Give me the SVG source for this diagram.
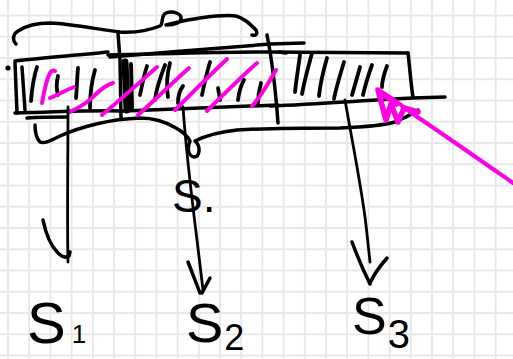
<svg xmlns="http://www.w3.org/2000/svg" width="513" height="359" viewBox="0 0 513 359">
<style>
.ink{fill:none;stroke:#000;stroke-width:3.5;stroke-linecap:round;stroke-linejoin:round}
.hatch{fill:none;stroke:#000;stroke-width:3.8;stroke-linecap:round;stroke-linejoin:round}
.mag{fill:none;stroke:#ff00e4;stroke-width:4;stroke-linecap:round;stroke-linejoin:round}
.lbl{font-family:"Liberation Sans",Arial,sans-serif;fill:#000}
</style>
<defs>
<pattern id="grid" patternUnits="userSpaceOnUse" x="-2.6" y="4.875" width="21.2" height="21.25">
<rect x="9.6" y="0" width="2" height="21.25" fill="#e8e8e8"/>
<rect x="0" y="9.625" width="21.2" height="2" fill="#e8e8e8"/>
</pattern>
</defs>
<rect width="513" height="359" fill="#fff"/>
<rect width="513" height="359" fill="url(#grid)"/>

<g id="top-brace">
<path class="ink" d="M16,44 C12,40 13,34 18,31 C24,27 35,23 50,23 C75,24 100,30 120,32 C138,33 150,30 160,26 C164,24 160,16 166,13 C173,10 182,14 181,19 C180,24 172,25 166,25 C175,23 185,20 200,18 C215,16 228,15 236,16 C244,18 250,24 256,30 C258,34 256,36 252,35"/>
</g>

<g id="bar">
<path class="ink" d="M15,61 C40,58 80,55 108,52"/>
<path class="ink" d="M108,55 C160,54 220,52 268,52 C320,52 370,53 408,53"/>
<path class="ink" d="M110,57 C160,53 230,47 270,44 L304,43"/>
<path class="ink" d="M15,63 L17,113"/>
<circle cx="8" cy="68" r="2.6" fill="#000"/>
<path class="ink" d="M22,67 L25,110"/>
<path class="ink" d="M15,113 C60,112 90,110 123,111 C180,109 240,106 278,105"/>
<path class="ink" d="M27,118 C40,117 55,117 67,117"/>
<path class="ink" d="M270,106 C320,104 370,100 413,98 L445,97"/>
<path class="ink" d="M408,53 C410,70 411,85 413,97"/>
<path class="ink" d="M118,33 L120,60 L121,118"/>
<path class="ink" style="stroke-width:7" d="M125,62 L127,110"/>
<path class="ink" style="stroke-width:4" d="M131,64 L132,108"/>
<path class="ink" d="M267,35 C272,60 276,95 278,123"/>
<path class="ink" d="M279,52 L286,53"/>
<path class="hatch" d="M31,101 C32,88 34,76 37,67"/>
<path class="hatch" d="M58,95 C56,88 57,80 58,76"/>
<path class="hatch" d="M76,98 C77,88 77,78 78,68"/>
<path class="hatch" d="M90,108 C90,95 92,80 95,70"/>
<path class="hatch" d="M140,95 C142,85 144,75 147,66"/>
<path class="hatch" d="M155,100 C156,90 160,78 165,65"/>
<path class="hatch" d="M168,97 C166,85 167,74 170,63"/>
<path class="hatch" d="M178,103 C178,95 180,90 183,86"/>
<path class="hatch" d="M202,95 C204,85 206,75 210,62"/>
<path class="hatch" d="M218,88 L220,100"/>
<path class="hatch" d="M238,100 C239,92 241,85 244,80"/>
<path class="hatch" d="M258,103 C258,95 259,90 261,83"/>
<path class="hatch" d="M300,55 C298,70 296,82 295,92"/>
<path class="hatch" d="M312,53 C308,68 304,82 302,94"/>
<path class="hatch" d="M327,58 C323,72 320,85 319,96"/>
<path class="hatch" d="M344,62 C340,75 336,88 334,99"/>
<path class="hatch" d="M360,67 C357,78 354,88 352,95"/>
<path class="hatch" d="M372,65 C368,76 365,86 363,95"/>
<path class="hatch" d="M387,66 C384,74 382,80 382,87"/>
</g>

<g id="bottom-brace">
<path class="ink" d="M35,125 C35,132 36,138 40,142 C44,144 50,141 60,136 C80,127 110,119 140,118 C155,118 166,122 176,128 C183,132 188,137 190,141 C187,148 188,156 194,157 C200,157 201,146 195,141 C205,136 218,132 237,130 C270,128 310,128 340,128 C365,127 385,125 395,122 C405,118 412,114 418,110"/>
</g>

<g id="highlight">
<path class="mag" d="M42,103 C44,92 46,80 50,73 C51,71 53,70 55,71"/>
<path class="mag" d="M50,98 C58,95 66,90 74,87"/>
<path class="mag" d="M70,112 C78,108 88,103 95,95 C100,90 106,85 113,83"/>
<path class="mag" d="M102,115 C120,100 140,82 157,67"/>
<path class="mag" d="M138,115 C155,100 172,83 189,68"/>
<path class="mag" d="M175,110 C192,93 210,75 227,59"/>
<path class="mag" d="M207,111 C222,96 240,78 257,63"/>
<path class="mag" d="M252,106 C262,95 270,80 276,70"/>
<path class="mag" d="M513,183 C480,160 440,132 410,112 C400,104 390,96 378,90"/>
<path class="mag" style="stroke-width:5.5" d="M378,90 L386,120 L391,104 L398,122 L404,108 L418,112 M380,92 L396,104"/>
</g>

<g id="connectors">
<path class="ink" style="stroke-width:2.8" d="M68,107 C68,160 67,220 68,262"/>
<path class="ink" d="M43,220 C46,235 52,247 58,253 C62,257 66,258 69,256 L70,252"/>
<path class="ink" style="stroke-width:2.8" d="M183,107 C186,150 192,200 197,240 L203,290"/>
<path class="ink" d="M188,262 C192,272 196,283 200,293 M210,278 L202,293"/>
<path class="ink" style="stroke-width:2.8" d="M345,100 C352,140 362,190 366,225 L370,262"/>
<path class="ink" d="M352,242 C358,258 364,272 370,284 M387,258 C380,266 374,274 370,283"/>
</g>

<g id="s0"><text class="lbl" x="172" y="212" font-size="46">S.</text></g>
<g id="s1"><text class="lbl" x="27" y="343" font-size="58">S<tspan font-size="26" dx="6" dy="0">1</tspan></text></g>
<g id="s2"><text class="lbl" x="186" y="342" font-size="56">S<tspan font-size="36" dx="1" dy="8">2</tspan></text></g>
<g id="s3"><text class="lbl" x="352" y="334" font-size="52">S<tspan font-size="40" dx="1" dy="14">3</tspan></text></g>
</svg>
